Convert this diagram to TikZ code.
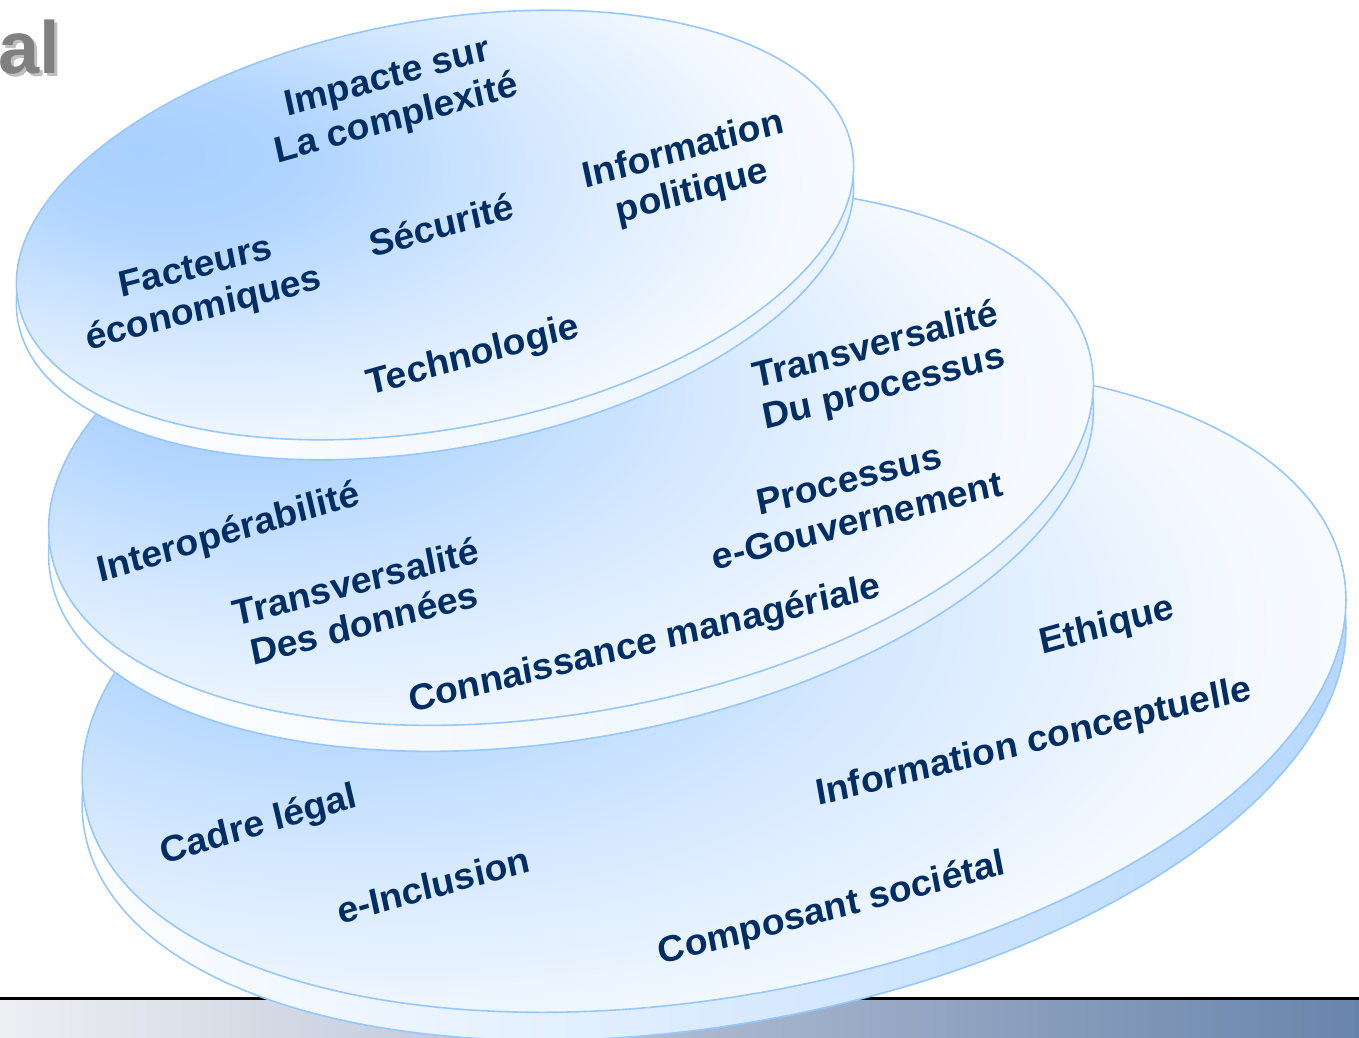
\documentclass[tikz,border=0pt]{standalone}
\usepackage{fontspec}
\setmainfont{Liberation Sans}
\definecolor{bleudisque}{RGB}{168,208,255}
\definecolor{bordbleu}{RGB}{150,200,255}
\definecolor{texte}{RGB}{0,45,98}
\definecolor{barregauche}{RGB}{238,239,243}
\definecolor{barredroite}{RGB}{105,132,172}
\pgfdeclareradialshading{disque}{\pgfpoint{-17bp}{11bp}}{color(0bp)=(bleudisque); color(8bp)=(bleudisque!90); color(20bp)=(bleudisque!45); color(31bp)=(bleudisque!12); color(42bp)=(white); color(80bp)=(white)}
\begin{document}
\begin{tikzpicture}[x=1pt,y=-1pt,
    bord/.style={draw=bordbleu,line width=1.6pt},
    face/.style={bord,shade,shading=disque},
    tranche/.style={bord,left color=white,middle color=white,right color=#1},
    tranche/.default=bleudisque!85,
    mot/.style={text=texte,font=\bfseries\fontsize{37}{43}\selectfont,align=center,xslant=0.07}]
    \useasboundingbox(0,0)rectangle(1359,1037);

    % bande du bas
    \shade[left color=barregauche,right color=barredroite](0,1000)rectangle(1359,1037);
    \draw[line width=3pt](0,998)--(1359,998);

    % disque du bas
    \draw[tranche,rotate around={10.4:(714,716)}](714,716)ellipse[x radius=640,y radius=308];
    \draw[face,rotate around={10.4:(714,688)}](714,688)ellipse[x radius=640,y radius=308];
    % disque du milieu
    \draw[tranche=bleudisque!30,rotate around={10.4:(571,482)}](571,482)ellipse[x radius=529,y radius=256];
    \draw[face,rotate around={10.4:(571,456)}](571,456)ellipse[x radius=529,y radius=256];
    % disque du haut
    \draw[tranche=bleudisque!25,rotate around={10.4:(435,245)}](435,245)ellipse[x radius=424,y radius=204];
    \draw[face,rotate around={10.4:(435,225)}](435,225)ellipse[x radius=424,y radius=204];

    \node[mot,rotate=16](impacte)at(392,100){Impacte sur\\La complexité};
    \node[mot,rotate=16](infopol)at(688,172){Information\\politique};
    \node[mot,rotate=16](securite)at(441,225){Sécurité};
    \node[mot,rotate=15](facteurs)at(200,290){Facteurs\\économiques};
    \node[mot,rotate=16](techno)at(473,357){Technologie};

    \node[mot,rotate=15](transproc)at(880,368){Transversalité\\Du processus};
    \node[mot,rotate=15](processus)at(853,500){Processus\\e-Gouvernement};
    \node[mot,rotate=17](interop)at(229,534){Interopérabilité};
    \node[mot,rotate=15](transdon)at(360,602){Transversalité\\Des données};
    \node[mot,rotate=14](connaissance)at(645,645){Connaissance managériale};

    \node[mot,rotate=16](ethique)at(1107,627){Ethique};
    \node[mot,rotate=14](infoconc)at(1034,743){Information conceptuelle};
    \node[mot,rotate=17](cadre)at(259,826){Cadre légal};
    \node[mot,rotate=16](inclusion)at(433,885){e-Inclusion};
    \node[mot,rotate=15](composant)at(832,910){Composant sociétal};

    \node[font=\bfseries\fontsize{74}{80}\selectfont,text=gray!50,anchor=base east,inner sep=0](titreombre)at(63,76){al};
    \node[font=\bfseries\fontsize{74}{80}\selectfont,text=gray,anchor=base east,inner sep=0](titre)at(60,73){al};
\end{tikzpicture}
\end{document}
